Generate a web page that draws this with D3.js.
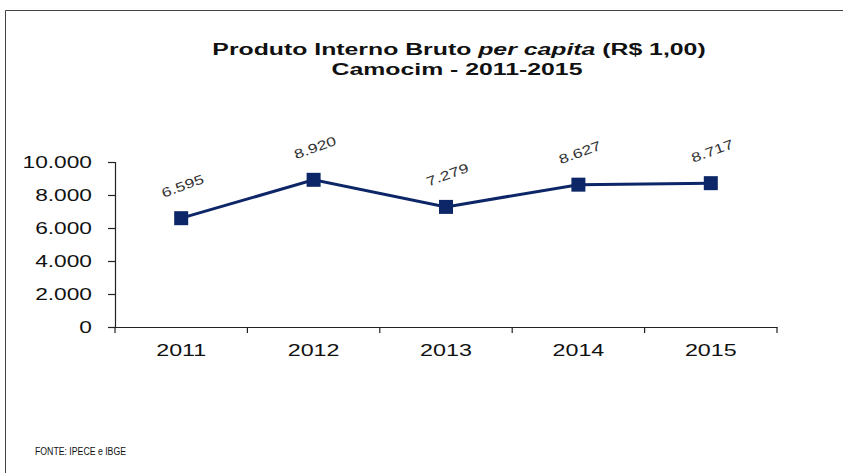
<!DOCTYPE html>
<html>
<head>
<meta charset="utf-8">
<script src="https://cdn.jsdelivr.net/npm/d3@7"></script>
<style>
  body { margin: 0; background: #fff; }
  svg { display: block; font-family: "Liberation Sans", Arial, sans-serif; }
</style>
</head>
<body>
<div id="chart"></div>
<script>
const years = ["2011", "2012", "2013", "2014", "2015"];
const pibPerCapita = [6595, 8920, 7279, 8627, 8717];
const yTicks = [0, 2000, 4000, 6000, 8000, 10000];

const width = 843;
const height = 473;
const margin = { left: 115, right: 66, top: 162, bottom: 146 };
const lineColor = "#0d2667";

const fmt = d3.formatLocale({ decimal: ",", thousands: ".", grouping: [3], currency: ["R$", ""] }).format(",.0f");

// the source picture is stretched sideways, so widen text the same way
const stretch = k => selection => {
  selection.each(function () {
    let w = this.getComputedTextLength();
    d3.select(this).attr("textLength", w * k).attr("lengthAdjust", "spacingAndGlyphs");
  });
};

const svg = d3.select("#chart").append("svg")
  .attr("width", width)
  .attr("height", height);

// frame
svg.append("path")
  .attr("d", `M5.5,${height} V10.5 H${width}`)
  .attr("fill", "none")
  .attr("stroke", "#444")
  .attr("stroke-width", 1);

const x = d3.scaleBand(years, [margin.left, width - margin.right]);
const y = d3.scaleLinear([0, 10000], [height - margin.bottom, margin.top]);

// title
const title = svg.append("text")
  .attr("x", 459)
  .attr("y", 55)
  .attr("text-anchor", "middle")
  .attr("font-size", 16)
  .attr("font-weight", "bold")
  .attr("fill", "#111");
title.append("tspan").text("Produto Interno Bruto ");
title.append("tspan").attr("font-style", "italic").text("per capita");
title.append("tspan").text(" (R$ 1,00)");
title.call(stretch(1.55));
svg.append("text")
  .attr("x", 457)
  .attr("y", 75)
  .attr("text-anchor", "middle")
  .attr("font-size", 16)
  .attr("font-weight", "bold")
  .attr("fill", "#111")
  .text("Camocim - 2011-2015")
  .call(stretch(1.55));

// y axis
const yAxis = svg.append("g")
  .attr("transform", `translate(${margin.left},0)`)
  .call(d3.axisLeft(y).tickValues(yTicks).tickFormat(fmt).tickSize(7).tickPadding(16));
yAxis.selectAll("text")
  .attr("font-size", 16)
  .attr("fill", "#111")
  .attr("font-family", "Liberation Sans, Arial, sans-serif")
  .call(stretch(1.42));
yAxis.selectAll("line, path").attr("stroke", "#222").attr("stroke-width", 1.2);

// x axis
const xAxis = svg.append("g")
  .attr("transform", `translate(0,${y(0)})`)
  .call(d3.axisBottom(x).tickSize(0).tickPadding(17));
xAxis.select(".domain").attr("stroke", "#222").attr("stroke-width", 1.2);
xAxis.selectAll("text")
  .attr("font-size", 17)
  .attr("fill", "#111")
  .attr("font-family", "Liberation Sans, Arial, sans-serif")
  .call(stretch(1.37));
// category boundary ticks
xAxis.selectAll(".bound")
  .data(years.map(d => x(d)).concat([x.range()[1]]))
  .join("line")
  .attr("class", "bound")
  .attr("x1", d => d).attr("x2", d => d)
  .attr("y1", 0).attr("y2", 6)
  .attr("stroke", "#222")
  .attr("stroke-width", 1.2);

const cx = d => x(d) + x.bandwidth() / 2;

// series line
svg.append("path")
  .datum(pibPerCapita)
  .attr("fill", "none")
  .attr("stroke", lineColor)
  .attr("stroke-width", 3)
  .attr("d", d3.line().x((v, i) => cx(years[i])).y(v => y(v)));

// markers
svg.selectAll(".marker")
  .data(pibPerCapita)
  .join("rect")
  .attr("class", "marker")
  .attr("x", (v, i) => cx(years[i]) - 7)
  .attr("y", v => y(v) - 7)
  .attr("width", 14)
  .attr("height", 14)
  .attr("fill", lineColor);

// data labels
svg.selectAll(".label")
  .data(pibPerCapita)
  .join("text")
  .attr("class", "label")
  .attr("transform", (v, i) => `translate(${cx(years[i]) + 3},${y(v) - 28}) rotate(-20)`)
  .attr("text-anchor", "middle")
  .attr("font-size", 13)
  .attr("fill", "#333")
  .text(v => fmt(v))
  .call(stretch(1.35));

// source
svg.append("text")
  .attr("x", 35)
  .attr("y", 455)
  .attr("font-size", 10)
  .attr("fill", "#111")
  .attr("textLength", 91)
  .attr("lengthAdjust", "spacingAndGlyphs")
  .text("FONTE: IPECE e IBGE");
</script>
</body>
</html>
